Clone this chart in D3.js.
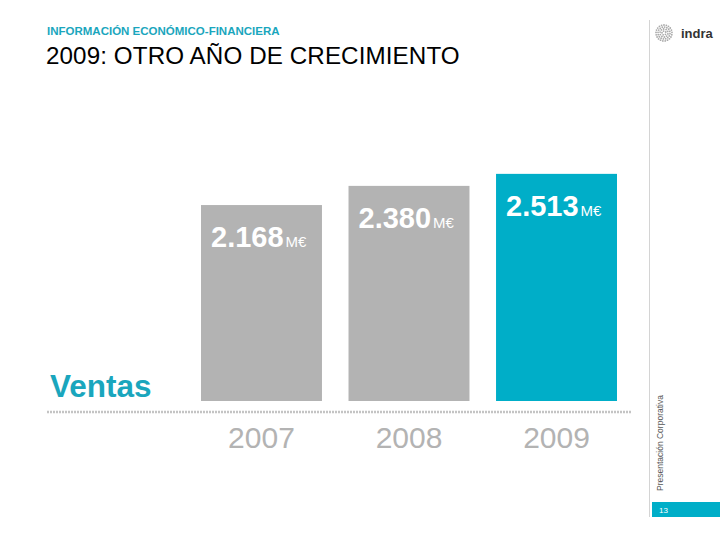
<!DOCTYPE html>
<html>
<head>
<meta charset="utf-8">
<script src="https://cdn.jsdelivr.net/npm/d3@7"></script>
<style>
  body { margin: 0; background: #fff; }
  svg { font-family: "Liberation Sans", Arial, sans-serif; }
</style>
</head>
<body>
<div id="chart"></div>
<script>
// data
var years = ["2007", "2008", "2009"];
var ventas = [2168, 2380, 2513];
var units = "M€";

var teal = "#00aec8", grey = "#b3b3b3";

var svg = d3.select("#chart").append("svg")
  .attr("width", 720)
  .attr("height", 540);

// header
svg.append("text")
  .attr("x", 47).attr("y", 35)
  .attr("fill", "#1aa6bd")
  .style("font-size", "11.5px").style("font-weight", "bold")
  .text("INFORMACIÓN ECONÓMICO-FINANCIERA");

svg.append("text")
  .attr("x", 46).attr("y", 64)
  .attr("fill", "#000")
  .style("font-size", "24.2px")
  .style("letter-spacing", "0.1px")
  .text("2009: OTRO AÑO DE CRECIMIENTO");

// right side frame
svg.append("line")
  .attr("x1", 649.5).attr("x2", 649.5)
  .attr("y1", 20).attr("y2", 517)
  .attr("stroke", "#d4d4d4");

svg.append("text")
  .attr("transform", "translate(663,491) rotate(-90)")
  .attr("fill", "#555")
  .style("font-size", "8.5px")
  .text("Presentación Corporativa");

svg.append("rect")
  .attr("x", 652).attr("y", 502)
  .attr("width", 68).attr("height", 15)
  .attr("fill", teal);
svg.append("text")
  .attr("x", 659).attr("y", 513)
  .attr("fill", "#fff")
  .style("font-size", "8px")
  .text("13");

// logo
var logo = svg.append("g").attr("transform", "translate(664,33)");
for (var r = 2; r <= 8; r += 2) {
  var n = Math.round(r * 2.6);
  for (var k = 0; k < n; k++) {
    var a = k * 2 * Math.PI / n + r;
    logo.append("circle")
      .attr("cx", r * Math.cos(a)).attr("cy", r * Math.sin(a))
      .attr("r", 0.9).attr("fill", "#aaa");
  }
}
svg.append("text")
  .attr("x", 681).attr("y", 38)
  .attr("fill", "#333")
  .style("font-size", "13px").style("font-weight", "bold")
  .text("indra");

// scales
var x = d3.scaleBand().domain(years).range([201, 617]).paddingInner(0.18);
var y = d3.scaleLinear().domain([0, 2600]).range([401, 166]);
var fmt = d3.formatLocale({ decimal: ",", thousands: ".", grouping: [3], currency: ["", ""] }).format(",");

// bars
svg.selectAll(".bar")
  .data(ventas)
.enter().append("rect")
  .attr("class", "bar")
  .attr("x", function(d, i) { return x(years[i]); })
  .attr("y", function(d) { return y(d); })
  .attr("width", x.bandwidth())
  .attr("height", function(d) { return y(0) - y(d); })
  .attr("fill", function(d, i) { return i == years.length - 1 ? teal : grey; });

// value labels
var lab = svg.selectAll(".val")
  .data(ventas)
.enter().append("text")
  .attr("class", "val")
  .attr("x", function(d, i) { return x(years[i]) + 10; })
  .attr("y", function(d) { return y(d) + 42; })
  .attr("fill", "#fff")
  .style("font-size", "29px").style("font-weight", "bold")
  .text(function(d) { return fmt(d); });
lab.append("tspan")
  .style("font-size", "15px").style("font-weight", "normal")
  .attr("dx", 2)
  .text(units);

// baseline
svg.append("line")
  .attr("x1", 47).attr("x2", 632)
  .attr("y1", 412).attr("y2", 412)
  .attr("stroke", "#c4c4c4")
  .attr("stroke-width", 2.5)
  .attr("stroke-dasharray", "2,1");

// x axis labels
var xAxis = d3.axisBottom(x).tickSize(0).tickPadding(0);
var gx = svg.append("g")
  .attr("transform", "translate(0,427)")
  .call(xAxis);
gx.select(".domain").remove();
gx.selectAll("text")
  .attr("dy", "0.71em")
  .attr("fill", grey)
  .style("font-size", "30px")
  .style("font-family", "\"Liberation Sans\", Arial, sans-serif");

// series label
svg.append("text")
  .attr("x", 50).attr("y", 397)
  .attr("fill", "#1aa6bd")
  .style("font-size", "31.5px").style("font-weight", "bold")
  .text("Ventas");
</script>
</body>
</html>
